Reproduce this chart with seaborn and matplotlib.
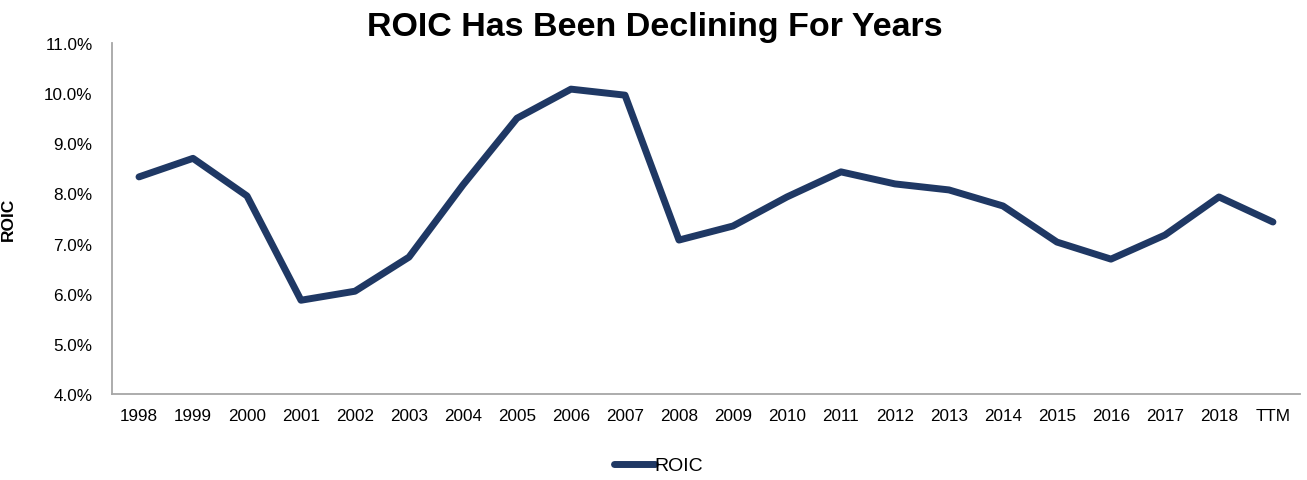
import matplotlib
matplotlib.use("Agg")
import matplotlib.pyplot as plt
import seaborn as sns
import pandas as pd
from matplotlib.ticker import FuncFormatter

years = ["1998", "1999", "2000", "2001", "2002", "2003", "2004", "2005", "2006", "2007",
         "2008", "2009", "2010", "2011", "2012", "2013", "2014", "2015", "2016", "2017",
         "2018", "TTM"]
roic = [8.33, 8.70, 7.95, 5.87, 6.05, 6.73, 8.17, 9.50, 10.08, 9.96,
        7.07, 7.35, 7.93, 8.43, 8.19, 8.07, 7.75, 7.03, 6.69, 7.17,
        7.93, 7.43]

sns.set_style("white")
plt.rcParams['font.family'] = ['Liberation Sans', 'DejaVu Sans']
plt.rcParams['text.color'] = 'black'
plt.rcParams['axes.labelcolor'] = 'black'

df = pd.DataFrame({"pos": range(len(years)), "ROIC": roic})

fig = plt.figure(figsize=(13.07, 4.81), dpi=100)
ax = fig.add_axes([0.0857, 0.1788, 0.9089, 0.7297])

sns.lineplot(data=df, x="pos", y="ROIC", ax=ax, color="#1f3864", linewidth=5,
             label="ROIC", solid_capstyle="round", solid_joinstyle="round")

ax.set_xlim(-0.5, len(years) - 0.5)
ax.set_ylim(4.0, 11.0)
ax.set_yticks([4, 5, 6, 7, 8, 9, 10, 11])
ax.yaxis.set_major_formatter(FuncFormatter(lambda v, p: f"{v:.1f}%"))
ax.set_xticks(range(len(years)))
ax.set_xticklabels(years)
ax.tick_params(axis="both", labelsize=12.3, length=0, colors="#000000")
ax.tick_params(axis="x", pad=10)
ax.tick_params(axis="y", pad=14)

for s in ["top", "right"]:
    ax.spines[s].set_visible(False)
for s in ["left", "bottom"]:
    ax.spines[s].set_color("#a6a6a6")
    ax.spines[s].set_linewidth(1.3)

ax.set_xlabel("")
ax.set_ylabel("ROIC", fontsize=12.5, fontweight="bold", labelpad=20, color="black")

fig.suptitle("ROIC Has Been Declining For Years", fontsize=24.5, fontweight="bold",
             x=0.501, y=0.975, color="black")

handles, labels = ax.get_legend_handles_labels()
ax.get_legend().remove()
leg = fig.legend(handles, labels, loc="center", bbox_to_anchor=(0.504, 0.03), frameon=False,
                 fontsize=14, handlelength=2.1, handletextpad=0.0)
for t in leg.get_texts():
    t.set_color("black")

fig.savefig("out.png", dpi=100)
